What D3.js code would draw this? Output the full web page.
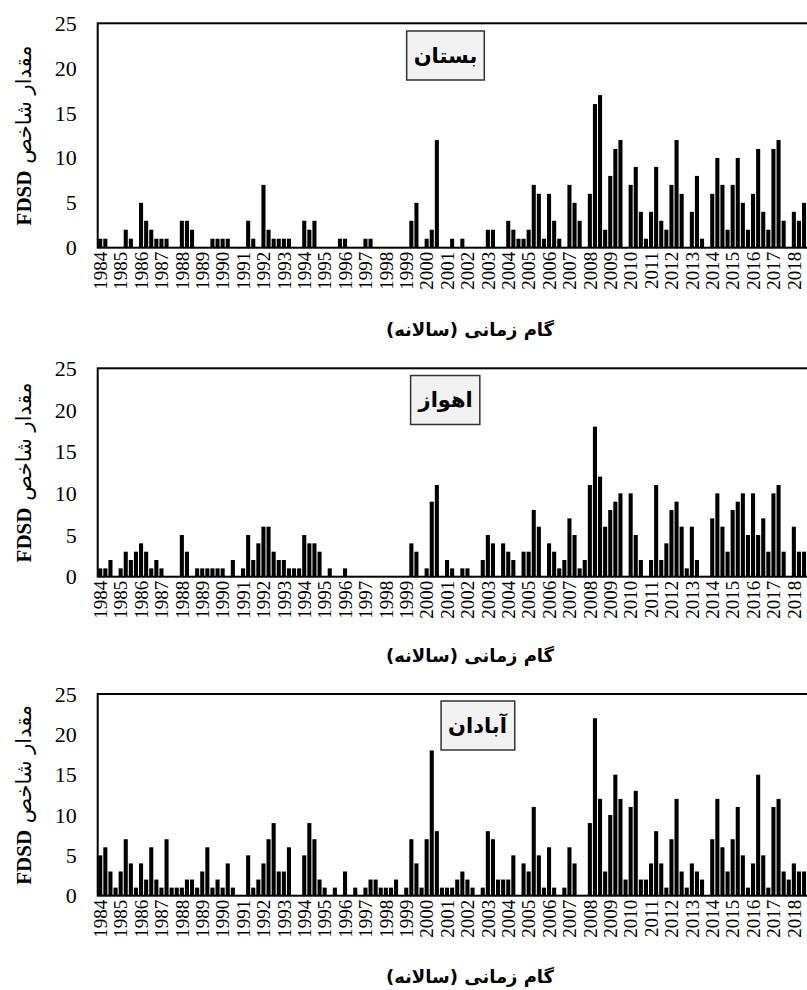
<!DOCTYPE html>
<html>
<head>
<meta charset="utf-8">
<script src="https://cdn.jsdelivr.net/npm/d3@7"></script>
<style>
  html, body { margin: 0; padding: 0; background: #fff; }
  svg { display: block; }
</style>
</head>
<body>
<svg id="chart" width="807" height="990"></svg>
<script>
// ---- DATA (seasonal FDSD values, 4 per year, 1984–2018) ----
const years = d3.range(1984, 2019).map(String);
const seasonsPerYear = 4;

const stations = ["بستان", "اهواز", "آبادان"];

const bostan = [
  1,1,0,0, 0,2,1,0, 5,3,2,1, 1,1,0,0, 3,3,2,0, 0,0,1,1, 1,1,0,0, 0,3,1,0,
  7,2,1,1, 1,1,0,0, 3,2,3,0, 0,0,0,1, 1,0,0,0, 1,1,0,0, 0,0,0,0, 0,3,5,0,
  1,2,12,0, 0,1,0,1, 0,0,0,0, 2,2,0,0, 3,2,1,1, 2,7,6,1, 6,3,1,0, 7,5,3,0,
  6,16,17,2, 8,11,12,0, 7,9,4,1, 4,9,3,2, 7,12,6,0, 4,8,1,0, 6,10,7,2,
  7,10,5,2, 6,11,4,2, 11,12,3,0, 4,3,5,0
];

const ahvaz = [
  1,1,2,0, 1,3,2,3, 4,3,1,2, 1,0,0,0, 5,3,0,1, 1,1,1,1, 1,0,2,0, 1,5,2,4,
  6,6,3,2, 2,1,1,1, 5,4,4,3, 0,1,0,0, 1,0,0,0, 0,0,0,0, 0,0,0,0, 0,4,3,0,
  1,9,11,0, 2,1,0,1, 1,0,0,2, 5,4,0,4, 3,2,0,3, 3,8,6,0, 4,3,1,2, 7,5,1,2,
  11,18,12,6, 8,9,10,0, 10,5,2,0, 2,11,2,4, 8,9,6,1, 6,2,0,0, 7,10,6,3,
  8,9,10,5, 10,5,7,3, 10,11,3,0, 6,3,3,0
];

const abadan = [
  5,6,3,1, 3,7,4,1, 4,2,6,2, 1,7,1,1, 1,2,2,1, 3,6,1,2, 1,4,1,0, 0,5,1,2,
  4,7,9,3, 3,6,0,0, 5,9,7,2, 1,0,1,0, 3,0,1,0, 1,2,2,1, 1,1,2,0, 1,7,4,1,
  7,18,8,1, 1,1,2,3, 2,1,0,1, 8,7,2,2, 2,5,0,4, 3,11,5,1, 6,1,0,1, 6,4,0,0,
  9,22,12,3, 10,15,12,2, 11,13,2,2, 4,8,4,1, 7,12,3,1, 4,3,2,0, 7,12,6,3,
  7,11,5,1, 4,15,5,1, 11,12,3,2, 4,3,3,0
];

const yTicks = [0, 5, 10, 15, 20, 25];
const yTitle = ["FDSD", " مقدار شاخص"];
const xTitle = "گام زمانی (سالانه)";

const seriesList = [bostan, ahvaz, abadan];

// ---- LAYOUT ----
const svg = d3.select("#chart");
const left = 97.7;
const step = 5.1;
const nBars = years.length * seasonsPerYear;
const panels = [
  { top: 23.3,  bottom: 247.7, title: 336, box: { cx: 445.5, cy: 55.5 } },
  { top: 368.3, bottom: 576.7, title: 662, box: { cx: 445.7, cy: 400 } },
  { top: 694,   bottom: 895.7, title: 983, box: { cx: 477.5, cy: 725.5 } }
];

const x = d3.scaleBand()
  .domain(d3.range(nBars))
  .range([left, left + nBars * step])
  .paddingInner(0.2)
  .paddingOuter(0.1);

panels.forEach((p, k) => {
  const values = seriesList[k];
  const y = d3.scaleLinear().domain([0, 25]).range([p.bottom, p.top]);
  const g = svg.append("g");

  // bars
  g.selectAll("rect.bar")
    .data(values)
    .join("rect")
    .attr("class", "bar")
    .attr("x", (d, i) => x(i))
    .attr("width", x.bandwidth())
    .attr("y", d => y(d))
    .attr("height", d => y(0) - y(d))
    .attr("fill", "#000");

  // frame
  g.append("rect")
    .attr("x", left)
    .attr("y", y(25))
    .attr("width", nBars * step)
    .attr("height", y(0) - y(25))
    .attr("fill", "none")
    .attr("stroke", "#000")
    .attr("stroke-width", 2);

  // y axis
  const yAxis = g.append("g")
    .attr("transform", `translate(${left},0)`)
    .call(d3.axisLeft(y).tickValues(yTicks).tickSize(0).tickPadding(21));
  yAxis.select(".domain").remove();
  yAxis.selectAll("text")
    .attr("font-family", "'Liberation Serif', 'Times New Roman', serif")
    .attr("font-size", 22)
    .attr("fill", "#000");

  // x axis
  const tickIdx = d3.range(0, nBars, seasonsPerYear);
  const xAxis = g.append("g")
    .attr("transform", `translate(0,${y(0)})`)
    .call(d3.axisBottom(x).tickValues(tickIdx).tickSize(0)
      .tickFormat(i => years[i / seasonsPerYear]));
  xAxis.select(".domain").remove();
  xAxis.selectAll("text")
    .attr("font-family", "'Liberation Serif', 'Times New Roman', serif")
    .attr("font-size", 19)
    .attr("fill", "#000")
    .attr("transform", "rotate(-90)")
    .attr("x", -4)
    .attr("y", 0)
    .attr("dy", "0.35em")
    .attr("text-anchor", "end");

  // y title
  const yt = g.append("text")
    .attr("transform", `translate(31,${(p.top + p.bottom) / 2}) rotate(-90)`)
    .attr("text-anchor", "middle")
    .attr("font-size", 21)
    .attr("fill", "#000");
  yt.append("tspan")
    .attr("font-family", "'Liberation Serif', 'Times New Roman', serif")
    .attr("font-weight", "bold")
    .text(yTitle[0]);
  yt.append("tspan")
    .attr("font-family", "'DejaVu Sans', sans-serif")
    .attr("font-size", 21)
    .text(yTitle[1]);

  // x title
  g.append("text")
    .attr("x", 470)
    .attr("y", p.title)
    .attr("text-anchor", "middle")
    .attr("font-family", "'DejaVu Sans', sans-serif")
    .attr("font-weight", "bold")
    .attr("font-size", 18)
    .attr("fill", "#000")
    .text(xTitle);

  // station label box
  const boxG = g.append("g");
  const rect = boxG.append("rect");
  const label = boxG.append("text")
    .attr("x", p.box.cx)
    .attr("y", p.box.cy)
    .attr("dy", "0.35em")
    .attr("text-anchor", "middle")
    .attr("font-family", "'DejaVu Sans', sans-serif")
    .attr("font-weight", "bold")
    .attr("font-size", 21)
    .attr("fill", "#000")
    .text(stations[k]);
  const bb = label.node().getBBox();
  rect.attr("x", bb.x - 7)
    .attr("y", p.box.cy - 24.5)
    .attr("width", bb.width + 14)
    .attr("height", 49)
    .attr("fill", "#f2f2f2")
    .attr("stroke", "#333")
    .attr("stroke-width", 1.5);
});
</script>
</body>
</html>
